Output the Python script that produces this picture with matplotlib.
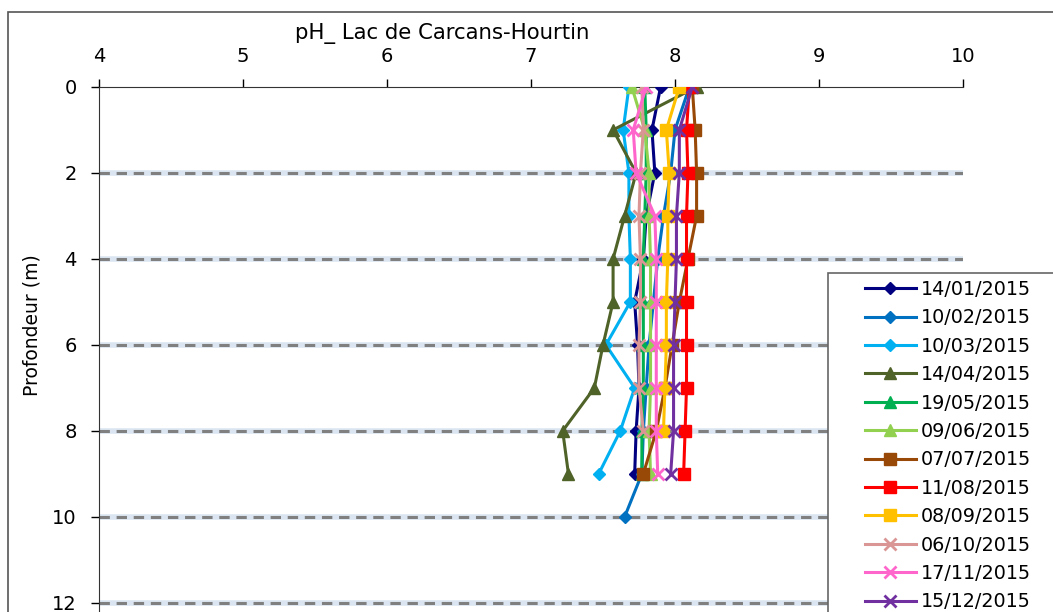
import numpy as np
import matplotlib.pyplot as plt
from matplotlib.patches import Rectangle

# profondeurs (m)
prof = [0, 1, 2, 3, 4, 5, 6, 7, 8, 9, 10]

dates = ['14/01/2015', '10/02/2015', '10/03/2015', '14/04/2015', '19/05/2015', '09/06/2015',
         '07/07/2015', '11/08/2015', '08/09/2015', '06/10/2015', '17/11/2015', '15/12/2015']

ph_1401 = [7.90, 7.84, 7.86, 7.80, 7.78, 7.72, 7.74, 7.75, 7.73, 7.72]
ph_1002 = [8.10, 8.00, 7.97, 7.92, 7.88, 7.85, 7.82, 7.80, 7.78, 7.77, 7.65]
ph_1003 = [7.68, 7.64, 7.68, 7.68, 7.69, 7.69, 7.52, 7.72, 7.62, 7.47]
ph_1404 = [8.15, 7.57, 7.73, 7.65, 7.57, 7.57, 7.50, 7.44, 7.22, 7.26]
ph_1905 = [7.79, 7.80, 7.80, 7.79, 7.78, 7.78, 7.78, 7.78, 7.77, 7.77]
ph_0906 = [7.70, 7.79, 7.82, 7.82, 7.83, 7.83, 7.83, 7.83, 7.82, 7.83]
ph_0707 = [8.12, 8.14, 8.15, 8.15, 8.09, 8.03, 7.98, 7.93, 7.87, 7.78]
ph_1108 = [8.10, 8.08, 8.09, 8.08, 8.08, 8.08, 8.08, 8.08, 8.07, 8.06]
ph_0809 = [8.03, 7.94, 7.96, 7.95, 7.95, 7.94, 7.94, 7.93, 7.92]
ph_0610 = [7.77, 7.78, 7.76, 7.75, 7.76, 7.76, 7.75, 7.75, 7.78]
ph_1711 = [7.80, 7.71, 7.73, 7.86, 7.87, 7.87, 7.87, 7.87, 7.87, 7.88]
ph_1512 = [8.12, 8.03, 8.03, 8.01, 8.01, 8.00, 7.99, 7.99, 7.99, 7.97]

series = [ph_1401, ph_1002, ph_1003, ph_1404, ph_1905, ph_0906,
          ph_0707, ph_1108, ph_0809, ph_0610, ph_1711, ph_1512]
couleurs = ['#000080', '#0070C0', '#00B0F0', '#4F6228', '#00B050', '#92D050',
            '#984807', '#FF0000', '#FFC000', '#D99694', '#FF66CC', '#7030A0']
marqueurs = ['D', 'D', 'D', '^', '^', '^', 's', 's', 's', 'x', 'x', 'x']
tailles = [6.5, 6.5, 6.5, 8.5, 8.5, 8.5, 8, 8, 8, 8, 8, 8]

plt.rcParams['font.family'] = 'DejaVu Sans'

fig = plt.figure(figsize=(10.53, 6.12), dpi=100)

# cadre du graphique (coupé en bas et à droite)
fig.patches.append(Rectangle((8 / 1053, -0.2), 1.2, 1 - 12 / 612 + 0.2,
                             transform=fig.transFigure, facecolor='none',
                             edgecolor='#555555', linewidth=1.2, zorder=0))

ax = fig.add_axes([99 / 1053, 0.858 - 14 * 43 / 612, 864 / 1053, 14 * 43 / 612])
ax.set_xlim(4, 10)
ax.set_ylim(14, 0)

for yg in [2, 4, 6, 8, 10, 12]:
    ax.axhline(yg, color='#dbe5f1', linewidth=4, zorder=1)
    ax.axhline(yg, color='#808080', linewidth=2.2, linestyle=(0, (3.4, 2.2)), zorder=1.5)

for vals, lab, c, m, s in zip(series, dates, couleurs, marqueurs, tailles):
    p = prof[:len(vals)]
    ax.plot(vals, p, color=c, marker=m, markersize=s, linewidth=2.2,
            markeredgewidth=2 if m == 'x' else 1, label=lab, zorder=3)

ax.xaxis.tick_top()
ax.set_xticks([4, 5, 6, 7, 8, 9, 10])
ax.set_yticks([0, 2, 4, 6, 8, 10, 12, 14])
ax.tick_params(axis='x', direction='out', length=6, width=1, labelsize=14, pad=9)
ax.tick_params(axis='y', direction='out', length=6, width=1, labelsize=14, pad=10)
ax.spines['right'].set_visible(False)
ax.spines['bottom'].set_visible(False)
ax.spines['top'].set_color('#333333')
ax.spines['left'].set_color('#333333')

fig.text(295 / 1053, 1 - 33 / 612, 'pH_ Lac de Carcans-Hourtin', fontsize=15.3,
         ha='left', va='center')
fig.text(32 / 1053, 1 - 325 / 612, 'Profondeur (m)', fontsize=13.5, rotation=90,
         ha='center', va='center')

# boîte de légende (coupée)
fig.patches.append(Rectangle((828 / 1053, -0.2), 0.3, 1 - 273 / 612 + 0.2,
                             transform=fig.transFigure, facecolor='white',
                             edgecolor='#666666', linewidth=1.2, zorder=4))
leg = fig.legend(loc='upper left', bbox_to_anchor=(865 / 1053, 1 - 280 / 612),
                 frameon=False, fontsize=13.8, handlelength=2.65, handletextpad=0.25,
                 labelspacing=0.49, borderpad=0, borderaxespad=0)
leg.set_zorder(5)

fig.savefig('out.png', dpi=100)
